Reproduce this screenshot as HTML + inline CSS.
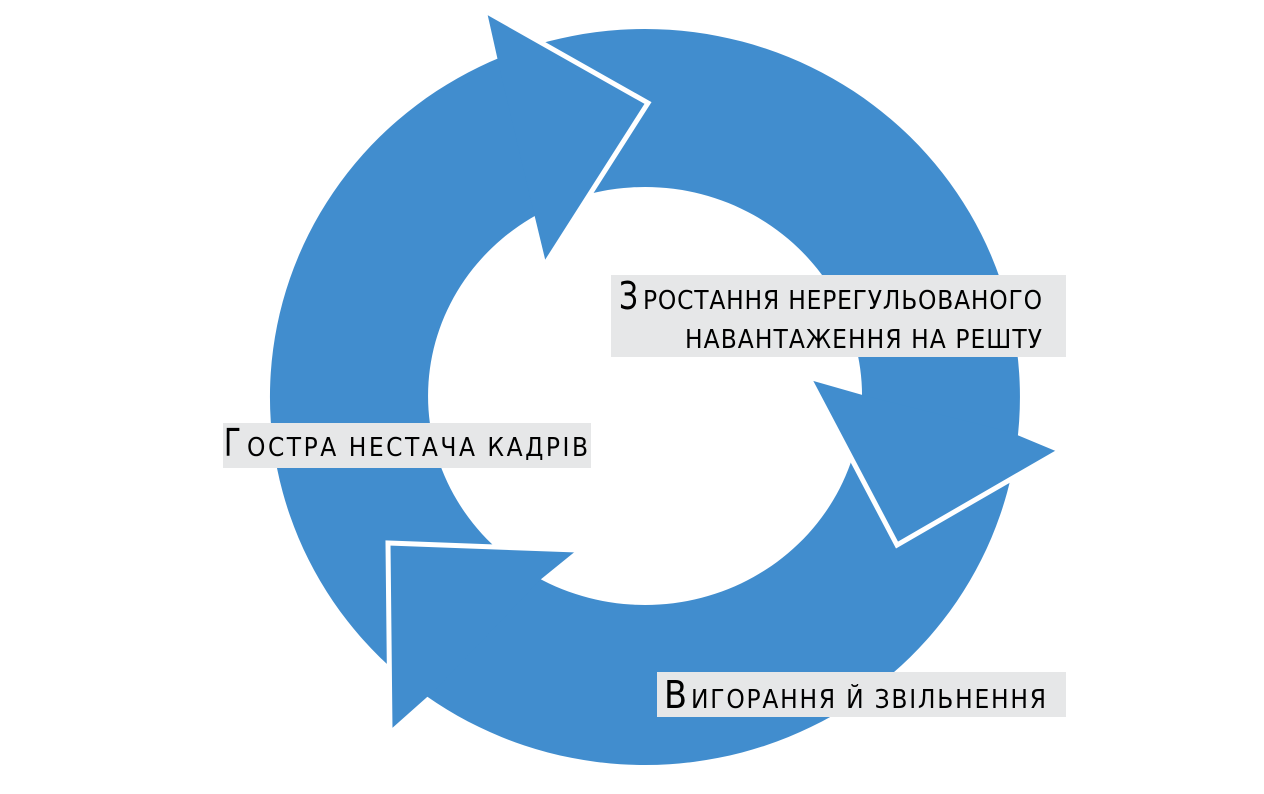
<!DOCTYPE html>
<html><head><meta charset="utf-8"><style>
html,body{margin:0;padding:0;background:#fff;}
svg{display:block}
text{font-family:"DejaVu Sans Condensed","Liberation Sans","DejaVu Sans",sans-serif;fill:#000}
</style></head><body>
<svg width="1264" height="794" viewBox="0 0 1264 794" xmlns="http://www.w3.org/2000/svg">
<path fill="#418dce" fill-rule="evenodd" d="M645,29 A375,368 0 1,1 644.9,29 Z M645,187 A217,209 0 1,0 645.1,187 Z"/>
<polygon fill="#418dce" points="500,70 487,12 648,103 546,263 532,205"/>
<polyline fill="none" stroke="#fff" stroke-width="5" points="487,12 648,103 546,263"/>
<polygon fill="#418dce" points="1010,432 1058,452 897,545 810,380 866,396"/>
<polyline fill="none" stroke="#fff" stroke-width="5" points="1058,452 897,545 810,380"/>
<polygon fill="#418dce" points="435,690 390,730 388,543 577,550 540,580"/>
<polyline fill="none" stroke="#fff" stroke-width="5" points="390,730 388,543 577,550"/>
<rect x="611" y="275" width="455" height="82" fill="#e6e7e8"/>
<text x="619" y="309" font-size="38" textLength="19" lengthAdjust="spacingAndGlyphs">З</text>
<text x="643" y="309" font-size="26" textLength="399" lengthAdjust="spacing">РОСТАННЯ НЕРЕГУЛЬОВАНОГО</text>
<text x="685" y="348" font-size="26" textLength="357" lengthAdjust="spacing">НАВАНТАЖЕННЯ НА РЕШТУ</text>
<rect x="223" y="423" width="368" height="45" fill="#e6e7e8"/>
<text x="224" y="456" font-size="38" textLength="17" lengthAdjust="spacingAndGlyphs">Г</text>
<text x="247" y="456" font-size="26" textLength="341" lengthAdjust="spacing">ОСТРА НЕСТАЧА КАДРІВ</text>
<rect x="657" y="672" width="409" height="45" fill="#e6e7e8"/>
<text x="664" y="708" font-size="38" textLength="23" lengthAdjust="spacingAndGlyphs">В</text>
<text x="691" y="708" font-size="26" textLength="355" lengthAdjust="spacing">ИГОРАННЯ Й ЗВІЛЬНЕННЯ</text>
</svg>
</body></html>
